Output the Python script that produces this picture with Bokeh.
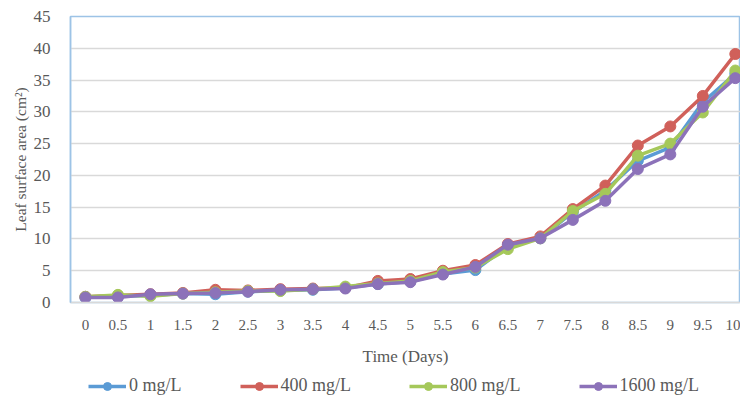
from bokeh.plotting import figure
from bokeh.models import FixedTicker, Legend, LegendItem
from bokeh.layouts import column
from bokeh.embed import file_html
from bokeh.resources import INLINE

days = [0, 0.5, 1, 1.5, 2, 2.5, 3, 3.5, 4, 4.5, 5, 5.5, 6, 6.5, 7, 7.5, 8, 8.5, 9, 9.5, 10]
day_labels = ["0", "0.5", "1", "1.5", "2", "2.5", "3", "3.5", "4", "4.5", "5",
              "5.5", "6", "6.5", "7", "7.5", "8", "8.5", "9", "9.5", "10"]

s0 = [0.8, 1.0, 1.1, 1.4, 1.3, 1.7, 1.9, 2.0, 2.3, 2.9, 3.3, 4.5, 5.1, 8.9, 10.1, 14.2, 17.6, 22.3, 24.4, 31.5, 36.0]
s400 = [0.9, 1.1, 1.3, 1.5, 2.0, 1.9, 2.1, 2.2, 2.3, 3.4, 3.7, 5.0, 5.9, 9.2, 10.4, 14.7, 18.4, 24.7, 27.7, 32.5, 39.1]
s800 = [0.9, 1.2, 1.0, 1.4, 1.6, 1.8, 1.8, 2.1, 2.5, 3.0, 3.4, 4.8, 5.5, 8.4, 10.1, 14.4, 17.1, 23.1, 25.0, 29.9, 36.5]
s1600 = [0.8, 0.8, 1.3, 1.4, 1.5, 1.7, 2.0, 2.1, 2.2, 2.9, 3.2, 4.4, 5.6, 9.1, 10.1, 13.0, 16.0, 21.0, 23.3, 30.8, 35.3]

series_names = ["0 mg/L", "400 mg/L", "800 mg/L", "1600 mg/L"]
series_values = [s0, s400, s800, s1600]
colors = ["#5B9BD5", "#D0605A", "#A5C85A", "#8C72B9"]

FONT = "Liberation Serif"
TXT = "#595959"

p = figure(width=740, height=372, output_backend="svg", toolbar_location=None,
           x_range=(-0.23, 10.08), y_range=(0, 45),
           min_border_left=70, min_border_top=16, min_border_right=0,
           min_border_bottom=70)

p.outline_line_color = "#9DC3E6"
p.outline_line_width = 1.5
p.background_fill_color = "white"

for name, vals, c in zip(series_names, series_values, colors):
    p.line(days, vals, line_color=c, line_width=3.5)
    p.scatter(days, vals, size=11, fill_color=c, line_color=c)

p.xaxis.ticker = FixedTicker(ticks=days)
p.xaxis.major_label_overrides = {d: l for d, l in zip(days, day_labels)}
p.yaxis.ticker = FixedTicker(ticks=list(range(0, 46, 5)))

for ax in (p.xaxis, p.yaxis):
    ax.major_tick_line_color = None
    ax.minor_tick_line_color = None
    ax.major_label_text_font = FONT
    ax.major_label_text_color = TXT
    ax.axis_label_text_font = FONT
    ax.axis_label_text_color = TXT
    ax.axis_label_text_font_style = "normal"

p.xaxis.major_label_text_font_size = "15px"
p.yaxis.major_label_text_font_size = "17px"
p.xaxis.axis_label_text_font_size = "17px"
p.yaxis.axis_label_text_font_size = "15.5px"

p.xaxis.axis_label = "Time (Days)"
p.yaxis.axis_label = "Leaf surface area (cm\u00b2)"
p.xaxis.axis_line_color = "#D9D9D9"
p.xaxis.axis_line_width = 1.5
p.yaxis.axis_line_color = "#9DC3E6"
p.yaxis.axis_line_width = 1.5
p.xaxis.major_label_standoff = 11
p.xaxis.axis_label_standoff = 14
p.yaxis.major_label_standoff = 14
p.yaxis.axis_label_standoff = 2

p.xgrid.grid_line_color = None
p.ygrid.grid_line_color = "#D9D9D9"
p.ygrid.grid_line_width = 1.5

# legend strip below the chart
lg = figure(width=740, height=28, output_backend="svg", toolbar_location=None,
            x_range=(100, 101), y_range=(100, 101),
            x_axis_type=None, y_axis_type=None,
            min_border_left=0, min_border_right=0, min_border_top=0, min_border_bottom=0)
lg.outline_line_color = None
lg.grid.visible = False

items = []
for name, vals, c in zip(series_names, series_values, colors):
    r1 = lg.line(days, vals, line_color=c, line_width=3.5)
    r2 = lg.scatter(days, vals, size=10, fill_color=c, line_color=c)
    items.append(LegendItem(label=name, renderers=[r1, r2]))

legend = Legend(items=items, orientation="horizontal", location=(18, 4),
                spacing=58, glyph_width=38, label_standoff=3,
                label_text_font=FONT, label_text_font_size="18px",
                label_text_color=TXT, border_line_color=None,
                background_fill_alpha=0, padding=0, margin=0)
lg.add_layout(legend, "center")

open("out.html", "w").write(file_html(column(p, lg), INLINE))
